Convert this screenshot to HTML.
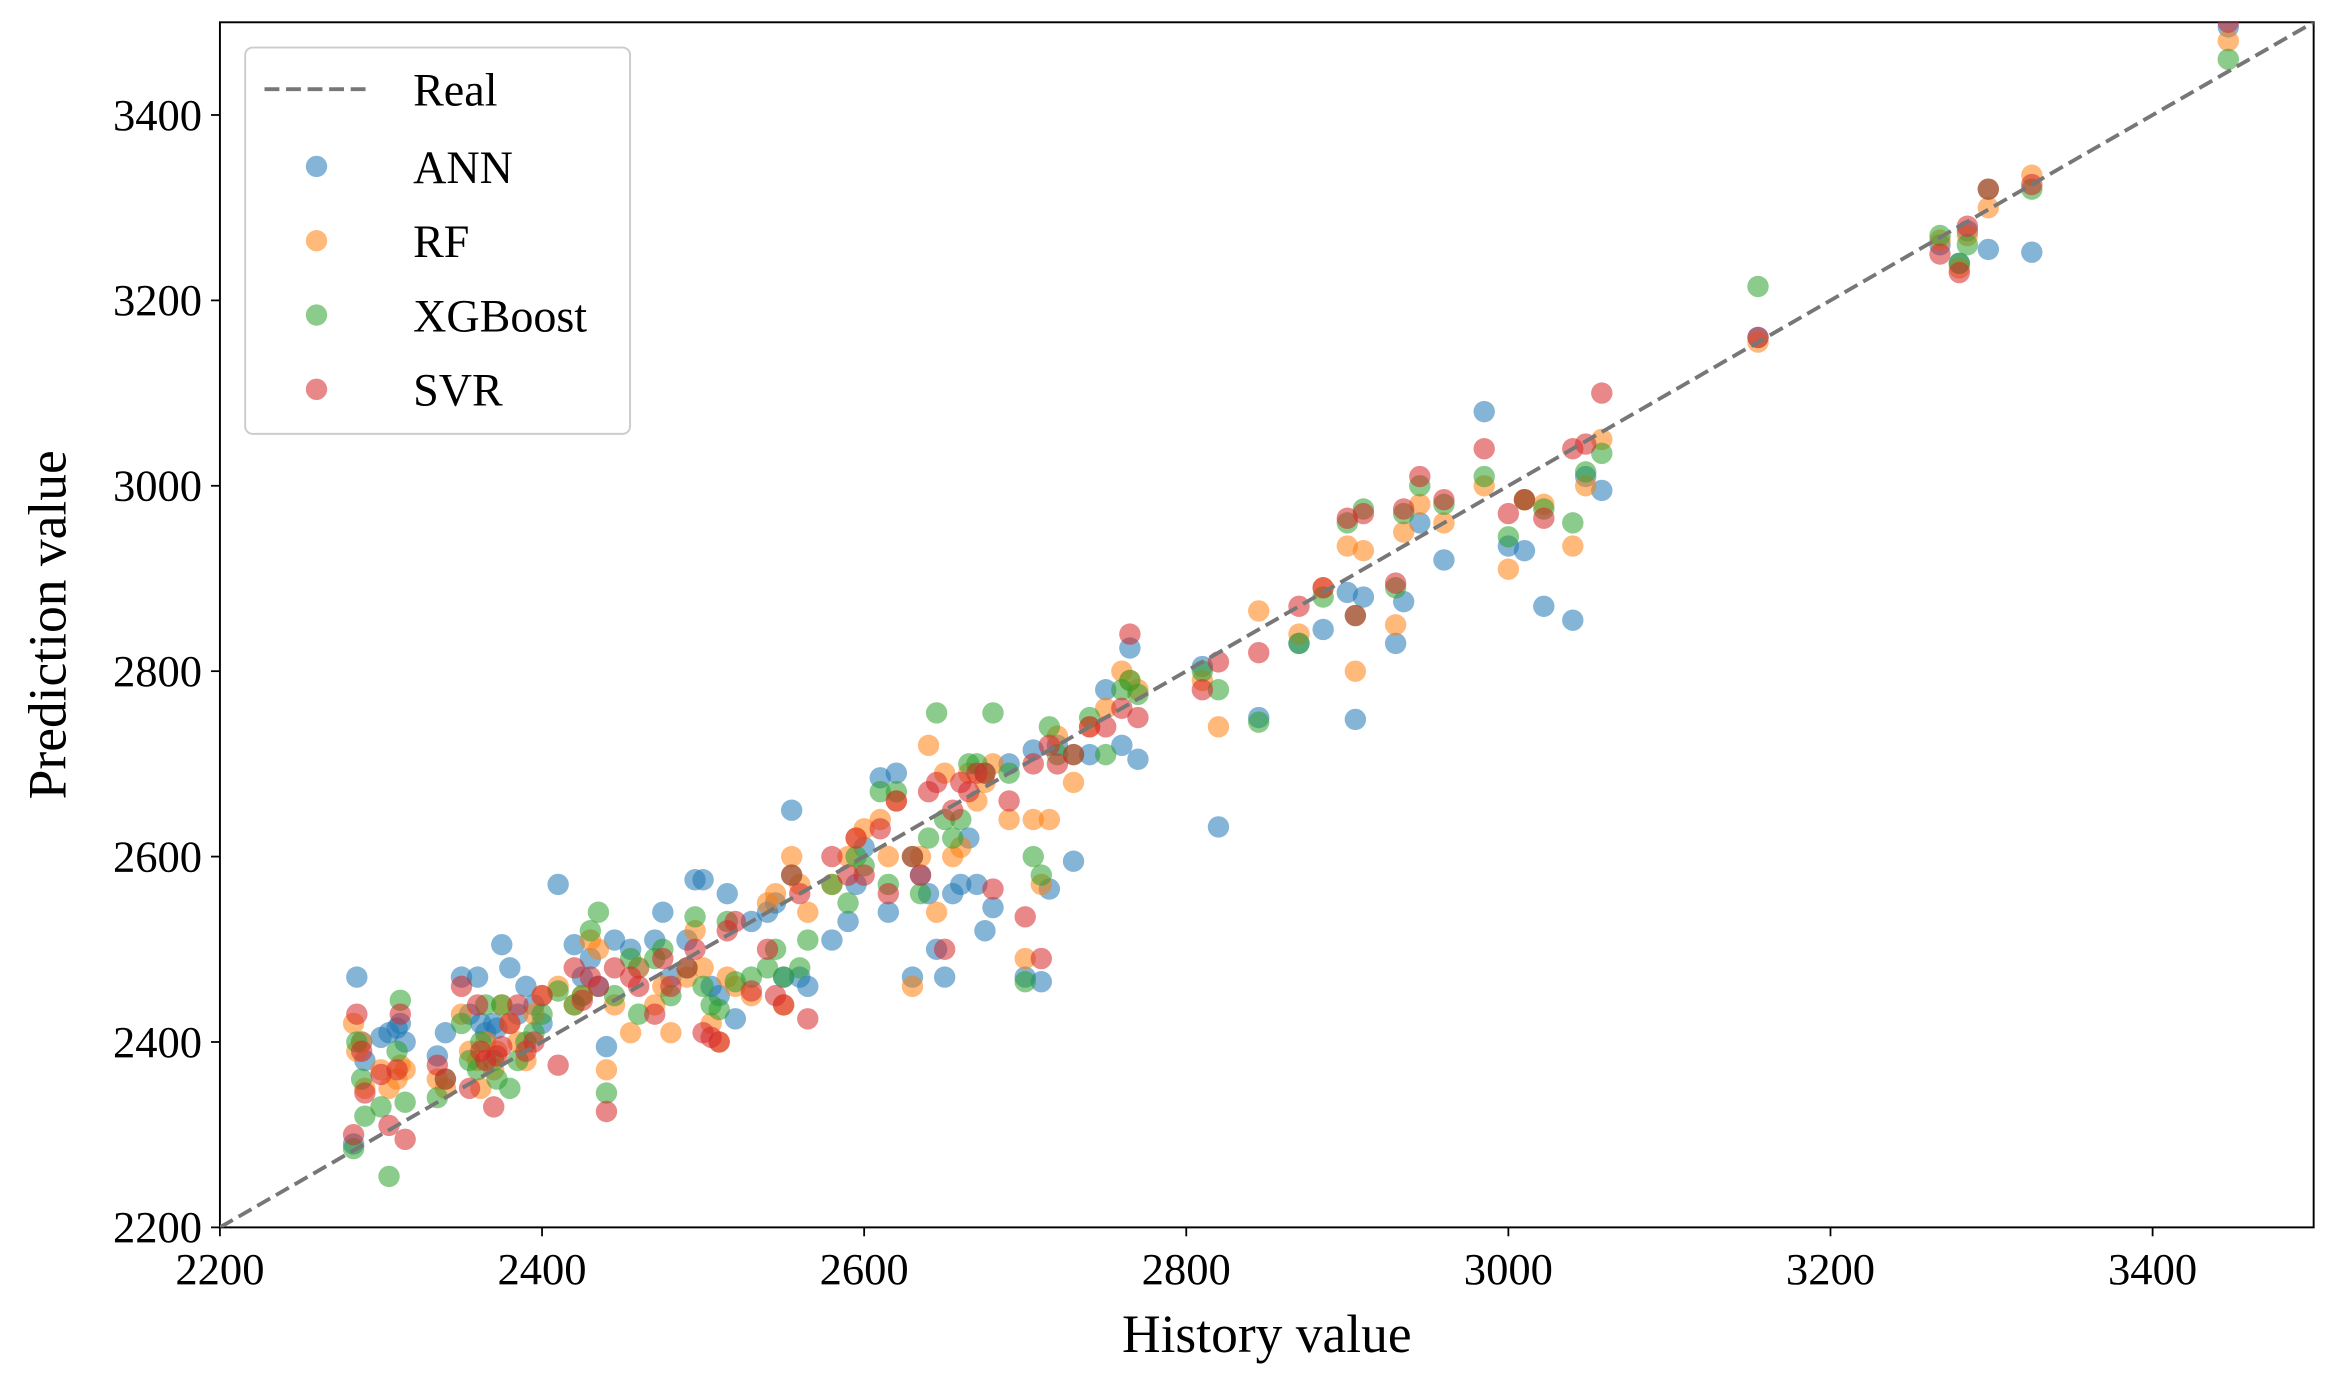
<!DOCTYPE html>
<html><head><meta charset="utf-8"><style>
html,body{margin:0;padding:0;background:#fff;}
svg{display:block;}
text{font-family:"Liberation Serif",serif;fill:#000;}
</style></head><body>
<svg id="chart" width="2330" height="1384" viewBox="0 0 1568 931.4" preserveAspectRatio="none" xmlns="http://www.w3.org/2000/svg">
<g id="grid"></g>
<g id="marks"></g>
<g id="legend"></g>
</svg>
<script>
const history = [2283,2285,2288,2290,2300,2305,2310,2312,2315,2335,2340,2350,2355,2360,2362,2365,2370,2372,2375,2380,2385,2390,2395,2400,2410,2420,2425,2430,2435,2440,2445,2455,2460,2470,2475,2480,2490,2495,2500,2505,2510,2515,2520,2530,2540,2545,2550,2555,2560,2565,2580,2590,2595,2600,2610,2615,2620,2630,2635,2640,2645,2650,2655,2660,2665,2670,2675,2680,2690,2700,2705,2710,2715,2720,2730,2740,2750,2760,2765,2770,2810,2820,2845,2870,2885,2900,2905,2910,2930,2935,2945,2960,2985,3000,3010,3022,3040,3048,3058,3155,3268,3280,3285,3298,3325,3447];
const annPred = [2290,2470,2400,2380,2405,2410,2415,2420,2400,2385,2410,2470,2430,2470,2420,2410,2420,2415,2505,2480,2430,2460,2440,2420,2570,2505,2470,2490,2460,2395,2510,2500,2480,2510,2540,2470,2510,2575,2575,2460,2450,2560,2425,2530,2540,2550,2470,2650,2470,2460,2510,2530,2570,2610,2685,2540,2690,2470,2580,2560,2500,2470,2560,2570,2620,2570,2520,2545,2700,2470,2715,2465,2565,2720,2595,2710,2780,2720,2825,2705,2805,2632,2750,2830,2845,2885,2748,2880,2830,2875,2960,2920,3080,2935,2930,2870,2855,3010,2995,3160,3260,3240,3275,3255,3252,3495];
const rfPred = [2420,2390,2400,2350,2370,2350,2360,2375,2370,2360,2350,2430,2390,2380,2350,2400,2370,2390,2440,2420,2400,2380,2430,2450,2460,2440,2450,2510,2500,2370,2440,2410,2480,2440,2460,2410,2470,2520,2480,2420,2400,2470,2460,2450,2550,2560,2440,2600,2570,2540,2570,2600,2620,2630,2640,2600,2660,2460,2600,2720,2540,2690,2600,2610,2690,2660,2680,2700,2640,2490,2640,2570,2640,2730,2680,2740,2760,2800,2790,2780,2790,2740,2865,2840,2890,2935,2800,2930,2850,2950,2980,2960,3000,2910,2985,2980,2935,3000,3050,3155,3265,3235,3270,3300,3335,3480];
const xgbPred = [2285,2400,2360,2320,2330,2255,2390,2445,2335,2340,2360,2420,2380,2370,2400,2440,2380,2360,2440,2350,2380,2400,2410,2430,2455,2440,2450,2520,2540,2345,2450,2490,2430,2490,2500,2450,2480,2535,2460,2440,2435,2530,2465,2470,2480,2500,2470,2580,2480,2510,2570,2550,2600,2590,2670,2570,2670,2600,2560,2620,2755,2640,2620,2640,2700,2700,2690,2755,2690,2465,2600,2580,2740,2710,2710,2750,2710,2780,2790,2775,2800,2780,2745,2830,2880,2960,2860,2975,2890,2970,3000,2980,3010,2945,2985,2975,2960,3015,3035,3215,3270,3240,3260,3320,3320,3460];
const svrPred = [2300,2430,2390,2345,2365,2310,2370,2430,2295,2375,2360,2460,2350,2440,2390,2380,2330,2385,2395,2420,2440,2390,2400,2450,2375,2480,2445,2470,2460,2325,2480,2470,2460,2430,2490,2460,2480,2500,2410,2405,2400,2520,2530,2455,2500,2450,2440,2580,2560,2425,2600,2580,2620,2580,2630,2560,2660,2600,2580,2670,2680,2500,2650,2680,2670,2690,2690,2565,2660,2535,2700,2490,2720,2700,2710,2740,2740,2760,2840,2750,2780,2810,2820,2870,2890,2965,2860,2970,2895,2975,3010,2985,3040,2970,2985,2965,3040,3045,3100,3160,3250,3230,3280,3320,3325,3500];

const NS="http://www.w3.org/2000/svg";
const L=148,R=1557,T=15,B=826;
const xMin=2200,xMax=3500,yMin=2200,yMax=3500;
const sx=v=>L+(v-xMin)/(xMax-xMin)*(R-L);
const sy=v=>B-(v-yMin)/(yMax-yMin)*(B-T);
function mk(tag,attrs,parent){const e=document.createElementNS(NS,tag);for(const k in attrs)e.setAttribute(k,attrs[k]);parent.appendChild(e);return e;}
const grid=document.getElementById('grid'),marks=document.getElementById('marks'),leg=document.getElementById('legend');
const ticks=[2200,2400,2600,2800,3000,3200,3400];
ticks.forEach(t=>{
  const a=mk('line',{x1:sx(t),x2:sx(t),y1:B,y2:B+6,stroke:'#000','stroke-width':1.2},grid);
  
  
  const tx=mk('text',{x:sx(t),y:B+38,'text-anchor':'middle','font-size':30},grid);tx.textContent=t;
  
  
  const b=mk('line',{x1:L-6,x2:L,y1:sy(t),y2:sy(t),stroke:'#000','stroke-width':1.2},grid);
  
  
  const ty=mk('text',{x:L-12,y:sy(t)+10,'text-anchor':'end','font-size':30},grid);ty.textContent=t;
  
  
});
const xl=mk('text',{x:(L+R)/2,y:910,'text-anchor':'middle','font-size':36},grid);xl.textContent='History value';


const yl=mk('text',{x:0,y:0,'text-anchor':'middle','font-size':36,transform:`translate(44,${(T+B)/2}) rotate(-90)`},grid);yl.textContent='Prediction value';



const series=[['ann',annPred,'#1f77b4'],['rf',rfPred,'#ff7f0e'],['xgboost',xgbPred,'#2ca02c'],['svr',svrPred,'#d62728']];
const cg=mk('g',{'clip-path':'url(#clip)'},marks);
const cp=mk('clipPath',{id:'clip'},marks);mk('rect',{x:L,y:T,width:R-L,height:B-T},cp);
series.forEach(([nm,vals,col])=>{
  vals.forEach((v,i)=>{
    const c=mk('circle',{cx:sx(history[i]),cy:sy(v),r:7.2,fill:col,'fill-opacity':0.55},cg);
    
    
  });
});
const rl=mk('line',{x1:sx(2200),y1:sy(2200),x2:sx(3500),y2:sy(3500),stroke:'#777','stroke-width':2.6,'stroke-dasharray':'10,4.5'},cg);


const fr=mk('rect',{x:L,y:T,width:R-L,height:B-T,fill:'none',stroke:'#000','stroke-width':1.3},grid);



const lb=mk('rect',{x:165,y:32,width:259,height:260,rx:5,fill:'#fff','fill-opacity':0.85,stroke:'#ccc','stroke-width':1.3},leg);


const ll=mk('line',{x1:178,x2:246,y1:60,y2:60,stroke:'#777','stroke-width':2.6,'stroke-dasharray':'10,4.5'},leg);


const lt=mk('text',{x:278,y:71,'font-size':31},leg);lt.textContent='Real';


const names=['ANN','RF','XGBoost','SVR'];
series.forEach(([nm,vals,col],i)=>{
  const y=112+50*i;
  const c=mk('circle',{cx:213,cy:y,r:7.2,fill:col,'fill-opacity':0.55},leg);
  
  
  const t=mk('text',{x:278,y:y+11,'font-size':31},leg);t.textContent=names[i];
  
  
});
</script>
</body></html>
